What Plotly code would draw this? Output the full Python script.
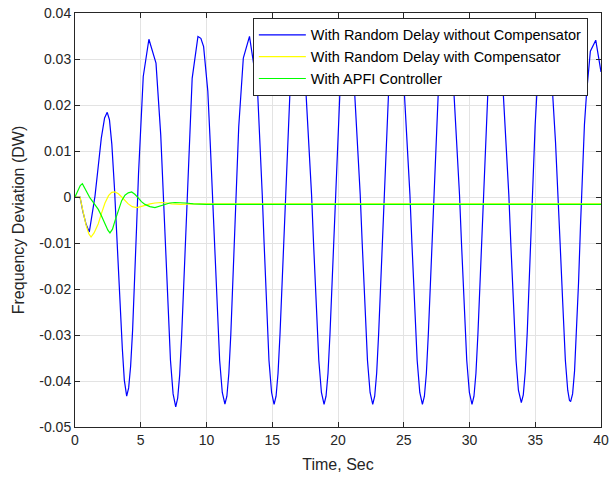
import plotly.graph_objects as go

# Time (s) and frequency deviation samples for each response
blue_t = [0.00, 0.38, 0.60, 0.85, 1.09, 1.30, 1.52, 1.75, 2.00, 2.25, 2.45, 2.62, 2.80, 3.00, 3.20, 3.40, 3.60, 3.75, 3.93,
          4.08, 4.23, 4.38, 4.53, 4.68, 4.83, 4.98, 5.19, 5.62, 6.16, 6.52, 6.71, 6.86, 7.06, 7.26, 7.46, 7.66,
          7.81, 7.96, 8.11, 8.26, 8.41, 8.56, 8.71, 8.91, 9.35, 9.57, 9.78, 10.10, 10.28, 10.45, 10.60, 10.80, 11.00, 11.20, 11.40,
          11.55, 11.70, 11.85, 12.00, 12.15, 12.30, 12.45, 12.80, 13.27, 13.88, 14.08, 14.24, 14.38, 14.56, 14.75, 14.95, 15.14,
          15.29, 15.44, 15.59, 15.74, 15.89, 16.04, 16.19, 16.39, 16.85, 17.20, 17.54, 17.79, 17.99, 18.14, 18.34, 18.54, 18.74, 18.94,
          19.09, 19.24, 19.39, 19.54, 19.69, 19.84, 19.99, 20.19, 20.60, 20.95, 21.24, 21.49, 21.69, 21.84, 22.04, 22.24, 22.44, 22.64,
          22.79, 22.94, 23.09, 23.24, 23.39, 23.54, 23.69, 23.89, 24.35, 24.70, 25.02, 25.27, 25.47, 25.62, 25.82, 26.02, 26.22, 26.42,
          26.57, 26.72, 26.87, 27.02, 27.17, 27.32, 27.47, 27.67, 28.10, 28.45, 28.79, 29.04, 29.24, 29.39, 29.59, 29.79, 29.99, 30.19,
          30.34, 30.49, 30.64, 30.79, 30.94, 31.09, 31.24, 31.44, 31.88, 32.22, 32.54, 32.79, 32.99, 33.14, 33.34, 33.54, 33.72, 33.86, 33.94,
          34.09, 34.24, 34.39, 34.54, 34.69, 34.84, 34.99, 35.19, 35.62, 35.98, 36.29, 36.54, 36.74, 36.89, 37.09, 37.29, 37.47, 37.60, 37.69,
          37.84, 37.99, 38.14, 38.29, 38.44, 38.59, 38.74, 38.90, 39.19, 39.60, 40.00]
blue_v = [0.0000, 0.0000, -0.0032, -0.0060, -0.0076, -0.0040, 0.0002, 0.0062, 0.0128, 0.0172, 0.0184, 0.0168, 0.0115, 0.0020, -0.0105, -0.0228, -0.0330, -0.0398, -0.0433,
          -0.0415, -0.0368, -0.0290, -0.0190, -0.0068, 0.0050, 0.0150, 0.0262, 0.0343, 0.0291, 0.0135, 0.0000, -0.0100, -0.0230, -0.0355, -0.0428, -0.0456,
          -0.0437, -0.0387, -0.0302, -0.0197, -0.0072, 0.0048, 0.0150, 0.0258, 0.0349, 0.0345, 0.0327, 0.0230, 0.0120, 0.0000, -0.0105, -0.0232, -0.0355, -0.0425, -0.0450,
          -0.0433, -0.0383, -0.0298, -0.0193, -0.0068, 0.0052, 0.0152, 0.0302, 0.0349, 0.0233, 0.0120, 0.0005, -0.0100, -0.0230, -0.0355, -0.0425, -0.0451,
          -0.0433, -0.0383, -0.0298, -0.0193, -0.0068, 0.0052, 0.0152, 0.0258, 0.0347, 0.0335, 0.0240, 0.0120, 0.0005, -0.0100, -0.0230, -0.0355, -0.0425, -0.0451,
          -0.0433, -0.0383, -0.0298, -0.0193, -0.0068, 0.0052, 0.0152, 0.0258, 0.0346, 0.0330, 0.0240, 0.0120, 0.0005, -0.0100, -0.0230, -0.0355, -0.0425, -0.0451,
          -0.0433, -0.0383, -0.0298, -0.0193, -0.0068, 0.0052, 0.0152, 0.0258, 0.0347, 0.0332, 0.0240, 0.0120, 0.0005, -0.0100, -0.0230, -0.0355, -0.0425, -0.0451,
          -0.0433, -0.0383, -0.0298, -0.0193, -0.0068, 0.0052, 0.0152, 0.0258, 0.0347, 0.0333, 0.0240, 0.0120, 0.0005, -0.0100, -0.0230, -0.0355, -0.0425, -0.0451,
          -0.0433, -0.0383, -0.0298, -0.0193, -0.0068, 0.0052, 0.0152, 0.0258, 0.0346, 0.0330, 0.0240, 0.0120, 0.0005, -0.0100, -0.0230, -0.0355, -0.0420, -0.0443, -0.0447,
          -0.0430, -0.0380, -0.0295, -0.0190, -0.0065, 0.0055, 0.0155, 0.0260, 0.0345, 0.0330, 0.0240, 0.0120, 0.0005, -0.0100, -0.0230, -0.0355, -0.0420, -0.0442, -0.0445,
          -0.0428, -0.0378, -0.0293, -0.0188, -0.0063, 0.0057, 0.0157, 0.0225, 0.0317, 0.0341, 0.0272]

yellow_t = [0.00, 0.38, 0.60, 0.85, 1.05, 1.22, 1.45, 1.77, 2.02, 2.28, 2.55, 2.79, 3.04, 3.30, 3.55, 3.80, 4.05, 4.35, 4.69,
            5.00, 5.32, 5.70, 6.08, 6.59, 7.00, 7.35, 8.00, 9.00, 40.00]
yellow_v = [0.0000, 0.0000, -0.0030, -0.0062, -0.0080, -0.0087, -0.0078, -0.0058, -0.0035, -0.0013, 0.0003, 0.0010, 0.0011, 0.0007, 0.0000, -0.0008, -0.0015, -0.0021, -0.0023,
            -0.0021, -0.0018, -0.0015, -0.0013, -0.0012, -0.0013, -0.0015, -0.0016, -0.0015, -0.0015]

green_t = [0.00, 0.20, 0.40, 0.56, 0.75, 0.95, 1.14, 1.35, 1.55, 1.77, 2.00, 2.28, 2.50, 2.66, 2.85, 3.04, 3.30, 3.55, 3.80,
           4.05, 4.31, 4.55, 4.81, 5.05, 5.32, 5.70, 6.08, 6.45, 6.84, 7.20, 7.60, 8.00, 8.40, 9.00, 10.00, 40.00]
green_v = [0.0000, 0.0012, 0.0025, 0.0029, 0.0018, 0.0007, -0.0002, -0.0010, -0.0018, -0.0027, -0.0040, -0.0058, -0.0072, -0.0078, -0.0070, -0.0052, -0.0028, -0.0008, 0.0004,
           0.0009, 0.0011, 0.0006, -0.0002, -0.0010, -0.0016, -0.0021, -0.0023, -0.0020, -0.0016, -0.0013, -0.0012, -0.0012, -0.0013, -0.0015, -0.0016, -0.0016]

series_names = ["With Random Delay without Compensator",
                "With Random Delay with Compensator",
                "With APFI Controller"]

x_ticks = [0, 5, 10, 15, 20, 25, 30, 35, 40]
y_ticks = [0.04, 0.03, 0.02, 0.01, 0, -0.01, -0.02, -0.03, -0.04, -0.05]
y_tick_labels = ["0.04", "0.03", "0.02", "0.01", "0", "-0.01", "-0.02", "-0.03", "-0.04", "-0.05"]

FONT = "Liberation Sans, Arial, Helvetica, sans-serif"
AXIS_COLOR = "#262626"
GRID_COLOR = "#e3e3e3"

fig = go.Figure()
fig.add_trace(go.Scatter(x=blue_t, y=blue_v, mode="lines", name=series_names[0],
                         line=dict(color="#0000ff", width=1.2)))
fig.add_trace(go.Scatter(x=yellow_t, y=yellow_v, mode="lines", name=series_names[1],
                         line=dict(color="#ffff00", width=1.2)))
fig.add_trace(go.Scatter(x=green_t, y=green_v, mode="lines", name=series_names[2],
                         line=dict(color="#00ff00", width=1.2)))

axis_common = dict(
    showline=True, linecolor=AXIS_COLOR, linewidth=1, mirror="ticks",
    ticks="inside", ticklen=5, tickcolor=AXIS_COLOR, tickwidth=1,
    showgrid=True, gridcolor=GRID_COLOR, gridwidth=1, zeroline=False,
    tickfont=dict(family=FONT, size=14, color=AXIS_COLOR),
    automargin=False,
)

fig.update_xaxes(range=[0, 40], tickvals=x_ticks, ticktext=[str(v) for v in x_ticks],
                 title=dict(text="Time, Sec", font=dict(family=FONT, size=16, color=AXIS_COLOR), standoff=12),
                 **axis_common)
fig.update_yaxes(range=[-0.05, 0.04], tickvals=y_ticks, ticktext=y_tick_labels,
                 title=dict(text="Frequency Deviation (DW)", font=dict(family=FONT, size=16, color=AXIS_COLOR), standoff=10),
                 **axis_common)

fig.update_layout(
    width=611, height=479, autosize=False,
    margin=dict(l=75, r=10, t=13, b=52),
    plot_bgcolor="white", paper_bgcolor="white",
    font=dict(family=FONT, color=AXIS_COLOR),
    showlegend=True,
    legend=dict(x=0.975, y=0.894, xanchor="right", yanchor="middle",
                bgcolor="white", bordercolor=AXIS_COLOR, borderwidth=1,
                font=dict(family=FONT, size=14.5, color="#000000"),
                itemwidth=47, tracegroupgap=0),
)

fig.write_html("out.html", config={"displayModeBar": False})
